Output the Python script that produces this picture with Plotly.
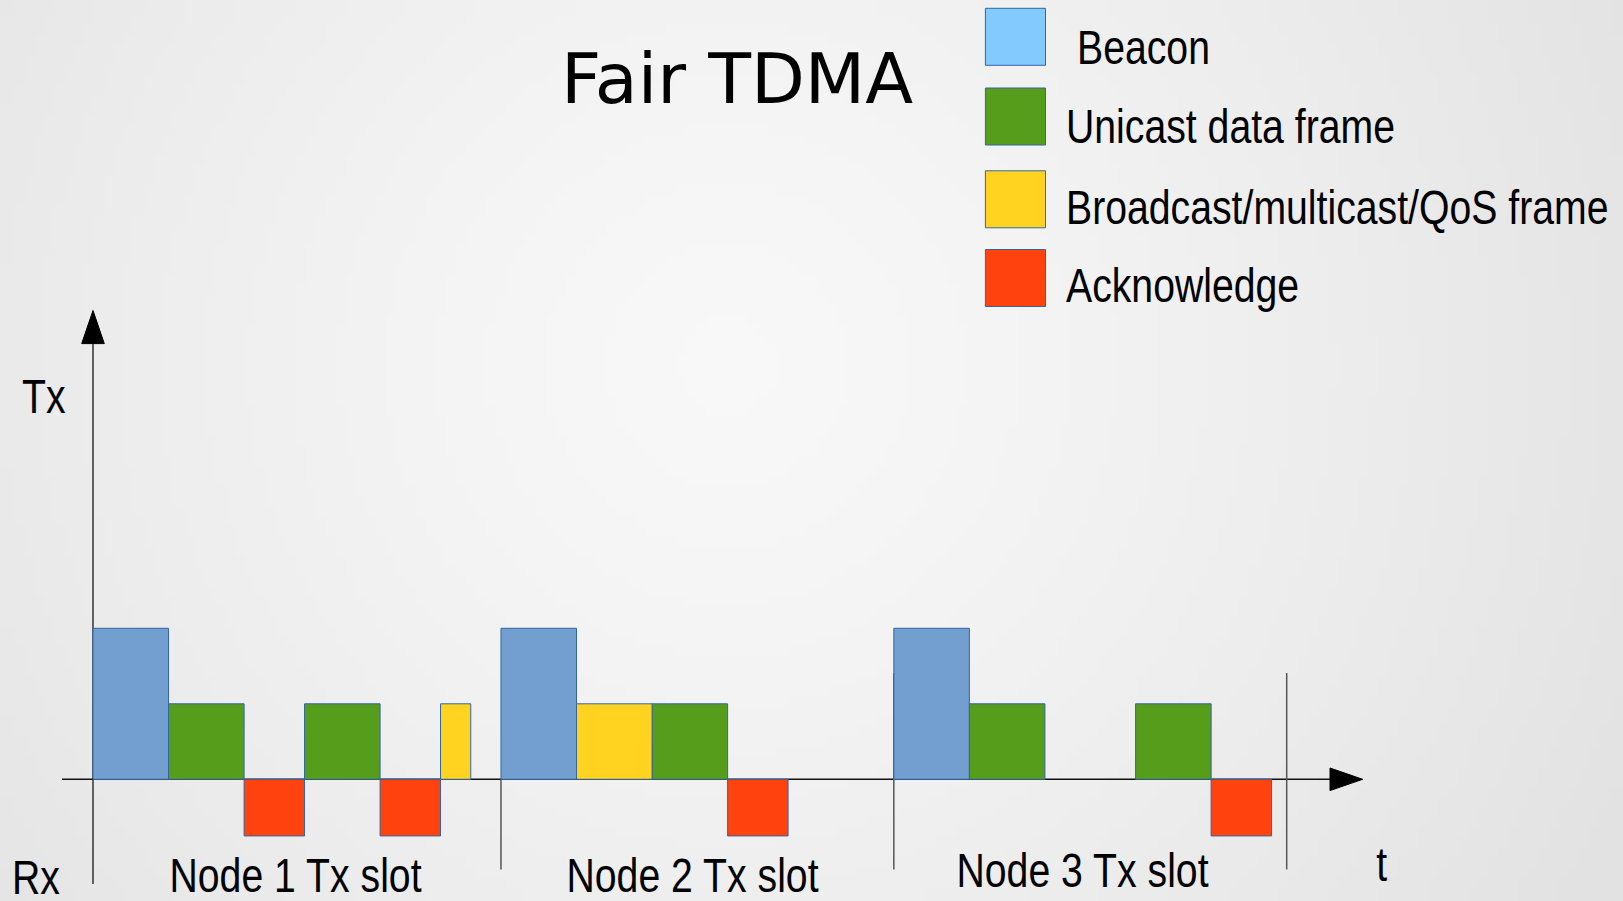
import base64, struct, zlib, math
import plotly.graph_objects as go

# ---------------- data ----------------
frame_type  = ["Beacon", "Unicast", "Ack", "Unicast", "Ack", "Broadcast",
               "Beacon", "Broadcast", "Unicast", "Ack",
               "Beacon", "Unicast", "Unicast", "Ack"]
frame_start = [0, 2.5, 5, 7, 9.5, 11.5,
               13.5, 16, 18.5, 21,
               26.5, 29, 34.5, 37]
frame_len   = [2.5, 2.5, 2, 2.5, 2, 1,
               2.5, 2.5, 2.5, 2,
               2.5, 2.5, 2.5, 2]
type_level  = {"Beacon": 2, "Unicast": 1, "Broadcast": 1, "Ack": -0.75}
slot_labels = ["Node 1 Tx slot", "Node 2 Tx slot", "Node 3 Tx slot"]
slot_bounds = [0, 13.5, 26.5, 39.5]
legend_names = ["Beacon", "Unicast data frame", "Broadcast/multicast/QoS frame", "Acknowledge"]

# ---------------- style ----------------
W, H = 1623, 901
X0_PX, UX = 93.0, 30.22
Y0_PX, UY = 779.3, 75.5
bar_colors = {"Beacon": "#729fcf", "Unicast": "#579d1c", "Broadcast": "#ffd320", "Ack": "#ff420e"}
legend_colors = ["#83caff", "#579d1c", "#ffd320", "#ff420e"]
edge = "#3465a4"
narrow = "Liberation Sans, Arial, sans-serif"

def px2x(p): return (p - X0_PX) / UX
def px2y(p): return (Y0_PX - p) / UY

# ---------------- background gradient image ----------------
gw, gh = 162, 90
rows = []
cx, cy = 0.445 * gw, 0.40 * gh
for j in range(gh):
    row = bytearray()
    for i in range(gw):
        d = math.hypot(i - cx, j - cy) / (0.62 * gw)
        v = 248 - 22 * min(d, 1.0) ** 1.3
        row.append(int(round(v)))
    rows.append(row)
raw = b"".join(b"\x00" + bytes(r) for r in rows)
def chunk(t, d):
    c = struct.pack(">I", len(d)) + t + d
    return c + struct.pack(">I", zlib.crc32(t + d) & 0xffffffff)
png = b"\x89PNG\r\n\x1a\n" + chunk(b"IHDR", struct.pack(">IIBBBBB", gw, gh, 8, 0, 0, 0, 0)) \
      + chunk(b"IDAT", zlib.compress(raw, 9)) + chunk(b"IEND", b"")
bg_src = "data:image/png;base64," + base64.b64encode(png).decode()

fig = go.Figure()

# ---------------- bars ----------------
for t in ["Beacon", "Unicast", "Broadcast", "Ack"]:
    idx = [k for k, ft in enumerate(frame_type) if ft == t]
    fig.add_trace(go.Bar(
        x=[frame_start[k] + frame_len[k] / 2 for k in idx],
        y=[type_level[t] for _ in idx],
        width=[frame_len[k] for k in idx],
        base=0,
        marker=dict(color=bar_colors[t], line=dict(color=edge, width=1)),
        name=t, showlegend=False, hoverinfo="skip"))

shapes = []
# axes lines
shapes.append(dict(type="line", xref="x", yref="y", x0=0, x1=0, y0=px2y(884), y1=px2y(340),
                   line=dict(color="#333333", width=1.5), layer="below"))
shapes.append(dict(type="line", xref="x", yref="y", x0=px2x(62), x1=px2x(1333), y0=0, y1=0,
                   line=dict(color="#111111", width=1.5), layer="below"))
# arrowheads
ya = f"M {0} {px2y(310.5)} L {px2x(X0_PX-11.3)} {px2y(343.6)} L {px2x(X0_PX+11.3)} {px2y(343.6)} Z"
xa = f"M {px2x(1362.7)} {0} L {px2x(1330)} {px2y(Y0_PX-11.3)} L {px2x(1330)} {px2y(Y0_PX+11.3)} Z"
for p in (ya, xa):
    shapes.append(dict(type="path", xref="x", yref="y", path=p, fillcolor="black",
                       line=dict(color="black", width=1), layer="above"))
# slot dividers
div_top = [None, 0, px2y(673), px2y(673)]
for k in range(1, 4):
    shapes.append(dict(type="line", xref="x", yref="y", x0=slot_bounds[k], x1=slot_bounds[k],
                       y0=div_top[k], y1=px2y(869.5),
                       line=dict(color="#555555", width=1.5), layer="below"))

# legend swatches
sw_top = [8.3, 88, 170.8, 249.5]
for c, top in zip(legend_colors, sw_top):
    shapes.append(dict(type="rect", xref="paper", yref="paper",
                       x0=985.4 / W, x1=1045.5 / W, y0=1 - top / H, y1=1 - (top + 57) / H,
                       fillcolor=c, line=dict(color=edge, width=1)))

ann = []
def txt(s, x, y, size, family=narrow, xanchor="left"):
    ann.append(dict(text=s, x=x / W, y=1 - y / H, xref="paper", yref="paper",
                    xanchor=xanchor, yanchor="middle", showarrow=False,
                    align="left" if xanchor == "left" else "center",
                    font=dict(family=family, size=size, color="black")))

txt("Fair TDMA", 737, 79, 70, family="DejaVu Sans", xanchor="center")
leg_x = [1074.5, 1064, 1064, 1064]
leg_y = [47.5, 126, 207, 285]
for s, lx, ly in zip(legend_names, leg_x, leg_y):
    txt(s, lx, ly, 49)
txt("Tx", 20, 396, 49)
txt("Rx", 10, 877, 49)
txt("t", 1382, 864, 49, xanchor="center")
slot_cx = [295.5, 692.6, 1082]
slot_cy = [875, 875, 870]
for s, sx, sy in zip(slot_labels, slot_cx, slot_cy):
    txt(s, sx, sy, 49, xanchor="center")

fig.update_layout(
    width=W, height=H, autosize=False,
    margin=dict(l=0, r=0, t=0, b=0, pad=0),
    paper_bgcolor="#f0f0f0", plot_bgcolor="rgba(0,0,0,0)",
    barmode="overlay", bargap=0,
    xaxis=dict(range=[px2x(0), px2x(W)], visible=False, fixedrange=True),
    yaxis=dict(range=[px2y(H), px2y(0)], visible=False, fixedrange=True),
    shapes=shapes, annotations=ann,
    images=[dict(source=bg_src, xref="paper", yref="paper", x=0, y=1, sizex=1, sizey=1,
                 xanchor="left", yanchor="top", sizing="stretch", layer="below")],
    showlegend=False,
)

# condense the narrow-style labels (the original uses a narrow sans face)
post = """
document.body.style.margin='0';document.body.style.overflow='hidden';
var K = 0.80;
document.querySelectorAll('text.annotation-text').forEach(function(t){
  var ff = t.style.fontFamily || '';
  if (ff.indexOf('Liberation') >= 0) {
    var L = t.getComputedTextLength();
    t.setAttribute('textLength', (L*K).toFixed(2));
    t.setAttribute('lengthAdjust', 'spacingAndGlyphs');
    var r = t.parentNode.querySelector('rect.bg');
    if (r) {
      var w = parseFloat(r.getAttribute('width')) || 0;
      var x = parseFloat(r.getAttribute('x')) || 0;
      var d = L*(1-K);
      r.setAttribute('width', Math.max(0, w - d).toFixed(2));
      if (t.getAttribute('text-anchor') === 'middle') r.setAttribute('x', (x + d/2).toFixed(2));
    }
  }
});
"""
fig.write_html("out.html", config={"displayModeBar": False, "staticPlot": True}, post_script=post)
